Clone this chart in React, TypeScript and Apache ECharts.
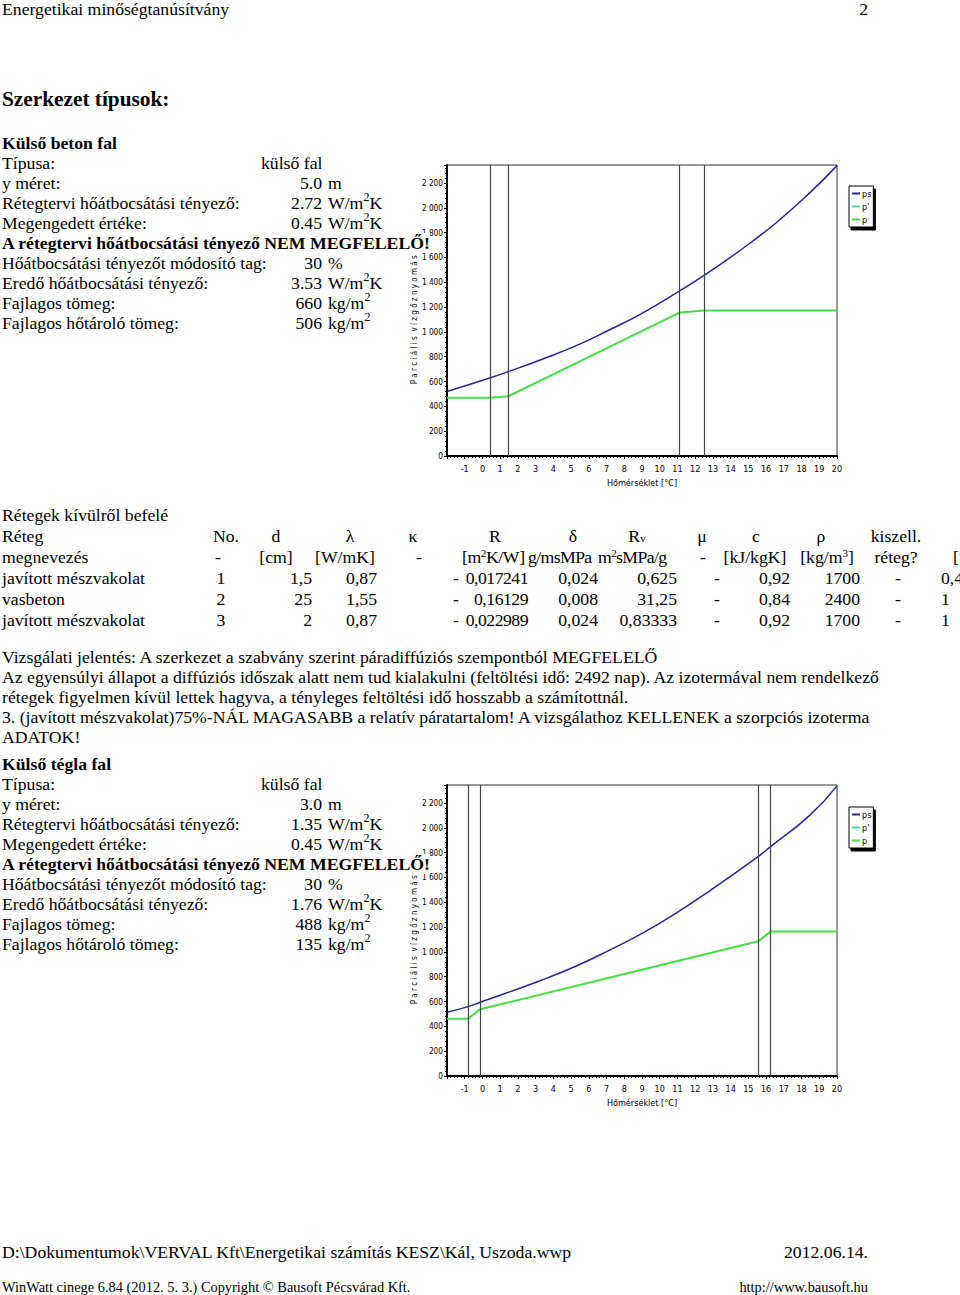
import React, { useEffect, useRef } from "react";
import * as echarts from "echarts";

// ---------- chart data ----------
const X_MIN = -2;
const X_MAX = 20;
const Y_MAX = 2345;
const LEGEND_NAMES = ["ps", "p'", "p"];

// chart 1: Külső beton fal
const LAYER_T_1 = [0.45, 1.45, 11.12, 12.5];
const PS_T_1 = [-2, 0.45, 1.45, 3.37, 5.26, 7.14, 9.0, 11.12, 12.5, 14.68, 16.57, 18.46, 20];
const PS_V_1 = [520, 631, 680, 780, 887, 1015, 1150, 1330, 1455, 1672, 1880, 2120, 2340];
const P_T_1 = [-2, 0.45, 1.45, 11.12, 12.5, 20];
const P_V_1 = [470, 470, 481, 1156, 1172, 1172];

// chart 2: Külső tégla fal
const LAYER_T_2 = [-0.81, -0.13, 15.57, 16.25];
const PS_T_2 = [-2, -0.81, -0.13, 3.37, 5.26, 7.14, 9.03, 10.92, 12.8, 15.57, 16.25, 18.46, 20];
const PS_V_2 = [514, 559, 594, 774, 884, 1012, 1151, 1312, 1490, 1769, 1849, 2100, 2338];
const P_T_2 = [-2, -0.81, -0.13, 15.57, 16.25, 20];
const P_V_2 = [462, 462, 538, 1086, 1164, 1164];

// ---------- table data ----------
const LAYER_NAMES = ["javított mészvakolat", "vasbeton", "javított mészvakolat"];
const LAYER_NO = ["1", "2", "3"];
const LAYER_D = ["1,5", "25", "2"];
const LAYER_LAMBDA = ["0,87", "1,55", "0,87"];
const LAYER_R = ["0,017241", "0,16129", "0,022989"];
const LAYER_DELTA = ["0,024", "0,008", "0,024"];
const LAYER_RV = ["0,625", "31,25", "0,83333"];
const LAYER_C = ["0,92", "0,84", "0,92"];
const LAYER_RHO = ["1700", "2400", "1700"];
const LAYER_LAST = ["0,4", "1", "1"];

const SERIF = '"Liberation Serif", "Times New Roman", Times, serif';
const NARROW = '"Liberation Sans Narrow", "DejaVu Sans Condensed", "Arial Narrow", sans-serif';
const FS = 17.7;

const C_PS = "#25258f";
const C_P1 = "#3fdca0";
const C_P = "#44dd44";

function zip(a: number[], b: number[]) {
  return a.map((v, i) => [v, b[i]]);
}

function yFmt(v: number) {
  if (v % 200 !== 0) return "";
  if (v >= 1000) return `${Math.floor(v / 1000)} ${String(v % 1000).padStart(3, "0")}`;
  return String(v);
}

function buildOption() {
  const tops = [165, 785];
  const grids = tops.map((t) => ({
    left: 447,
    top: t,
    width: 390,
    height: 291,
    show: true,
    borderColor: "#333",
    borderWidth: 1,
    backgroundColor: "transparent",
  }));
  const xAxes = [0, 1].map((i) => ({
    type: "value",
    gridIndex: i,
    min: X_MIN,
    max: X_MAX,
    interval: 1,
    axisLine: { show: true, onZero: false, lineStyle: { color: "#000", width: 2 } },
    axisTick: { show: true, length: 3, lineStyle: { color: "#000" } },
    minorTick: { show: true, splitNumber: 5, length: 2, lineStyle: { color: "#000" } },
    splitLine: { show: false },
    axisLabel: {
      formatter: (v: number) => (v === X_MIN ? "" : String(v)),
      fontSize: 9,
      color: "#000",
      margin: 8,
      fontFamily: NARROW,
    },
    name: "Hőmérséklet [°C]",
    nameLocation: "middle",
    nameGap: 22,
    nameTextStyle: { fontSize: 9, color: "#000", fontFamily: NARROW },
  }));
  const yAxes = [0, 1].map((i) => ({
    type: "value",
    gridIndex: i,
    min: 0,
    max: Y_MAX,
    interval: 200,
    axisLine: { show: true, onZero: false, lineStyle: { color: "#000", width: 2 } },
    axisTick: { show: true, length: 3, lineStyle: { color: "#000" } },
    minorTick: { show: true, splitNumber: 5, length: 2, lineStyle: { color: "#000" } },
    splitLine: { show: false },
    axisLabel: { formatter: yFmt, fontSize: 8.2, color: "#000", margin: 4, fontFamily: NARROW },
    name: "P a r c i á l i s  v í z g ő z n y o m á s  [Pa]",
    nameLocation: "middle",
    nameGap: 14,
    nameTextStyle: { fontSize: 8, color: "#000", fontFamily: NARROW },
  }));

  const sets = [
    { ps: zip(PS_T_1, PS_V_1), p: zip(P_T_1, P_V_1), layers: LAYER_T_1 },
    { ps: zip(PS_T_2, PS_V_2), p: zip(P_T_2, P_V_2), layers: LAYER_T_2 },
  ];
  const series: any[] = [];
  sets.forEach((s, i) => {
    series.push({
      name: LEGEND_NAMES[0],
      type: "line",
      xAxisIndex: i,
      yAxisIndex: i,
      data: s.ps,
      smooth: 0.5,
      showSymbol: false,
      lineStyle: { color: C_PS, width: 1.5 },
      itemStyle: { color: C_PS },
      markLine: {
        silent: true,
        symbol: "none",
        label: { show: false },
        lineStyle: { color: "#444", width: 1.2, type: "solid" },
        data: s.layers.map((t) => ({ xAxis: t })),
      },
      z: 3,
    });
    series.push({
      name: LEGEND_NAMES[1],
      type: "line",
      xAxisIndex: i,
      yAxisIndex: i,
      data: [],
      showSymbol: false,
      lineStyle: { color: C_P1, width: 1.5 },
      itemStyle: { color: C_P1 },
    });
    series.push({
      name: LEGEND_NAMES[2],
      type: "line",
      xAxisIndex: i,
      yAxisIndex: i,
      data: s.p,
      showSymbol: false,
      lineStyle: { color: C_P, width: 2 },
      itemStyle: { color: C_P },
      z: 4,
    });
  });

  const legendTops = [186, 807];
  const legends = legendTops.map((t) => ({
    data: LEGEND_NAMES,
    orient: "vertical",
    left: 849,
    top: t,
    icon: "rect",
    itemWidth: 8,
    itemHeight: 2,
    itemGap: 4,
    padding: [3, 2, 3, 3],
    borderColor: "#000",
    borderWidth: 1,
    backgroundColor: "#fff",
    shadowColor: "#000",
    shadowOffsetX: 2,
    shadowOffsetY: 3,
    shadowBlur: 0,
    selectedMode: false,
    textStyle: { fontSize: 9, color: "#000", fontFamily: NARROW, padding: [0, 0, 0, -3] },
  }));

  return {
    animation: false,
    backgroundColor: "#fff",
    grid: grids,
    xAxis: xAxes,
    yAxis: yAxes,
    legend: legends,
    series,
  };
}

// ---------- text helpers ----------
function T(props: {
  x: number;
  y: number;
  a?: "l" | "r" | "c";
  b?: boolean;
  s?: number;
  children?: React.ReactNode;
  style?: React.CSSProperties;
}) {
  const { x, y, a = "l", b, s = FS, children, style } = props;
  const lh = Math.round(s * 1.2);
  const st: React.CSSProperties = {
    position: "absolute",
    top: y - lh / 2,
    lineHeight: `${lh}px`,
    fontSize: s,
    fontWeight: b ? "bold" : "normal",
    whiteSpace: "nowrap",
    ...style,
  };
  if (a === "l") st.left = x;
  else if (a === "r") st.right = 960 - x;
  else {
    st.left = x;
    st.transform = "translateX(-50%)";
  }
  return <div style={st}>{children}</div>;
}

const Sup = ({ c }: { c: string }) => (
  <span style={{ fontSize: 12, position: "relative", top: -8 }}>{c}</span>
);

function Info(p: {
  y0: number;
  title: string;
  typ: string;
  ym: string;
  u1: string;
  u2: string;
  mod: string;
  er: string;
  tm: string;
  ht: string;
}) {
  const y = p.y0;
  return (
    <>
      <T x={2} y={y} b>{p.title}</T>
      <T x={2} y={y + 20}>Típusa:</T>
      <T x={261} y={y + 20}>{p.typ}</T>
      <T x={2} y={y + 40}>y méret:</T>
      <T x={322} y={y + 40} a="r">{p.ym}</T>
      <T x={328} y={y + 40}>m</T>
      <T x={2} y={y + 60}>Rétegtervi hőátbocsátási tényező:</T>
      <T x={322} y={y + 60} a="r">{p.u1}</T>
      <T x={328} y={y + 60}>W/m<Sup c="2" />K</T>
      <T x={2} y={y + 80}>Megengedett értéke:</T>
      <T x={322} y={y + 80} a="r">{p.u2}</T>
      <T x={328} y={y + 80}>W/m<Sup c="2" />K</T>
      <T x={2} y={y + 100} b>
        <span style={{ background: "#fff" }}>A rétegtervi hőátbocsátási tényező NEM MEGFELELŐ!</span>
      </T>
      <T x={2} y={y + 120}>Hőátbocsátási tényezőt módosító tag:</T>
      <T x={322} y={y + 120} a="r">{p.mod}</T>
      <T x={328} y={y + 120}>%</T>
      <T x={2} y={y + 140}>Eredő hőátbocsátási tényező:</T>
      <T x={322} y={y + 140} a="r">{p.er}</T>
      <T x={328} y={y + 140}>W/m<Sup c="2" />K</T>
      <T x={2} y={y + 160}>Fajlagos tömeg:</T>
      <T x={322} y={y + 160} a="r">{p.tm}</T>
      <T x={328} y={y + 160}>kg/m<Sup c="2" /></T>
      <T x={2} y={y + 180}>Fajlagos hőtároló tömeg:</T>
      <T x={322} y={y + 180} a="r">{p.ht}</T>
      <T x={328} y={y + 180}>kg/m<Sup c="2" /></T>
    </>
  );
}

const SmallSup = ({ c }: { c: string }) => (
  <span style={{ fontSize: 11, position: "relative", top: -6 }}>{c}</span>
);

function Table() {
  const rows = LAYER_NAMES.map((n, i) => {
    const y = 578 + i * 21;
    return (
      <React.Fragment key={i}>
        <T x={2} y={y}>{n}</T>
        <T x={221} y={y} a="c">{LAYER_NO[i]}</T>
        <T x={312} y={y} a="r">{LAYER_D[i]}</T>
        <T x={377} y={y} a="r">{LAYER_LAMBDA[i]}</T>
        <T x={459} y={y} a="r">-</T>
        <T x={528} y={y} a="r" style={{ letterSpacing: -0.5 }}>{LAYER_R[i]}</T>
        <T x={598} y={y} a="r">{LAYER_DELTA[i]}</T>
        <T x={677} y={y} a="r">{LAYER_RV[i]}</T>
        <T x={717} y={y} a="c">-</T>
        <T x={790} y={y} a="r">{LAYER_C[i]}</T>
        <T x={860} y={y} a="r">{LAYER_RHO[i]}</T>
        <T x={898} y={y} a="c">-</T>
        <T x={941} y={y}>{LAYER_LAST[i]}</T>
      </React.Fragment>
    );
  });
  return (
    <>
      <T x={2} y={515}>Rétegek kívülről befelé</T>
      <T x={2} y={536}>Réteg</T>
      <T x={226} y={536} a="c">No.</T>
      <T x={276} y={536} a="c">d</T>
      <T x={350} y={536} a="c">λ</T>
      <T x={413} y={536} a="c">κ</T>
      <T x={495} y={536} a="c">R</T>
      <T x={573} y={536} a="c">δ</T>
      <T x={637} y={536} a="c">R<span style={{ fontSize: 11 }}>v</span></T>
      <T x={702} y={536} a="c">μ</T>
      <T x={756} y={536} a="c">c</T>
      <T x={821} y={536} a="c">ρ</T>
      <T x={896} y={536} a="c">kiszell.</T>
      <T x={2} y={557}>megnevezés</T>
      <T x={218} y={557} a="c">-</T>
      <T x={276} y={557} a="c">[cm]</T>
      <T x={345} y={557} a="c">[W/mK]</T>
      <T x={419} y={557} a="c">-</T>
      <T x={462} y={557} style={{ letterSpacing: -0.4 }}>[m<SmallSup c="2" />K/W]</T>
      <T x={528} y={557} style={{ letterSpacing: -0.6 }}>g/msMPa</T>
      <T x={598} y={557} style={{ letterSpacing: -0.6 }}>m<SmallSup c="2" />sMPa/g</T>
      <T x={703} y={557} a="c">-</T>
      <T x={755} y={557} a="c">[kJ/kgK]</T>
      <T x={827} y={557} a="c">[kg/m<SmallSup c="3" />]</T>
      <T x={896} y={557} a="c">réteg?</T>
      <T x={953} y={557}>[°C]</T>
      {rows}
    </>
  );
}

export default function App() {
  const ref = useRef<HTMLDivElement>(null);
  useEffect(() => {
    const chart = echarts.init(ref.current!, null, { renderer: "svg" });
    chart.setOption(buildOption() as any);
    return () => chart.dispose();
  }, []);
  return (
    <div
      style={{
        position: "absolute",
        left: 0,
        top: 0,
        width: 960,
        height: 1295,
        overflow: "hidden",
        background: "#fff",
        fontFamily: SERIF,
        color: "#000",
      }}
    >
      <div ref={ref} style={{ position: "absolute", left: 0, top: 0, width: 960, height: 1295 }} />
      <T x={2} y={9}>Energetikai minőségtanúsítvány</T>
      <T x={868} y={9} a="r">2</T>
      <T x={2} y={99} b s={21.3}>Szerkezet típusok:</T>
      <Info
        y0={143}
        title="Külső beton fal"
        typ="külső fal"
        ym="5.0"
        u1="2.72"
        u2="0.45"
        mod="30"
        er="3.53"
        tm="660"
        ht="506"
      />
      <Table />
      <T x={2} y={657}>Vizsgálati jelentés: A szerkezet a szabvány szerint páradiffúziós szempontból MEGFELELŐ</T>
      <T x={2} y={677}>
        Az egyensúlyi állapot a diffúziós időszak alatt nem tud kialakulni (feltöltési idő: 2492 nap). Az izotermával nem rendelkező
      </T>
      <T x={2} y={697}>rétegek figyelmen kívül lettek hagyva, a tényleges feltöltési idő hosszabb a számítottnál.</T>
      <T x={2} y={717}>
        3. (javított mészvakolat)75%-NÁL MAGASABB a relatív páratartalom! A vizsgálathoz KELLENEK a szorpciós izoterma
      </T>
      <T x={2} y={737}>ADATOK!</T>
      <Info
        y0={764}
        title="Külső tégla fal"
        typ="külső fal"
        ym="3.0"
        u1="1.35"
        u2="0.45"
        mod="30"
        er="1.76"
        tm="488"
        ht="135"
      />
      <T x={2} y={1252}>D:\Dokumentumok\VERVAL Kft\Energetikai számítás KESZ\Kál, Uszoda.wwp</T>
      <T x={868} y={1252} a="r">2012.06.14.</T>
      <T x={2} y={1287} s={14.4}>WinWatt cinege 6.84 (2012. 5. 3.) Copyright © Bausoft Pécsvárad Kft.</T>
      <T x={868} y={1287} a="r" s={14.4}>http://www.bausoft.hu</T>
    </div>
  );
}
